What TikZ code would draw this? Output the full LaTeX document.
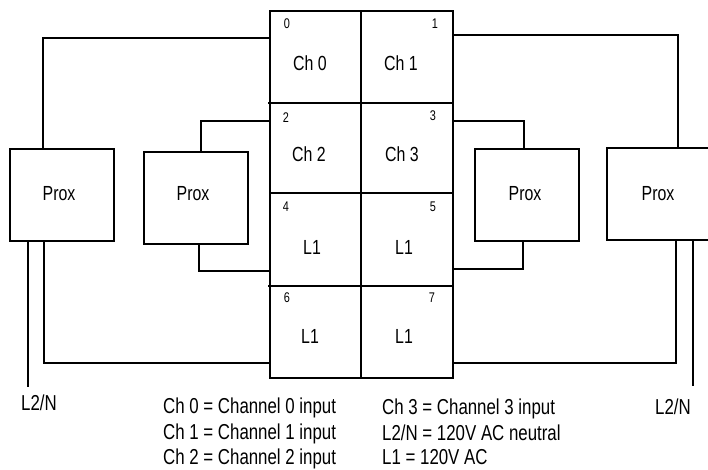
\documentclass[tikz,border=0pt]{standalone}
\usepackage{fontspec}
\setmainfont[FakeStretch=0.78]{Liberation Sans}

\tikzset{
  wire/.style={line width=2pt},
  cell/.style={draw, line width=2pt, inner sep=0pt, outer sep=0pt},
  prox/.style={draw, line width=2pt, inner sep=0pt, outer sep=0pt, minimum width=104pt, minimum height=92pt},
  lbl/.style={inner sep=0pt, font=\fontsize{20.4}{24}\selectfont},
  key/.style={inner sep=0pt, anchor=base west, font=\fontsize{21.6}{26}\selectfont},
  num/.style={inner sep=0pt, font=\fontsize{14}{16}\selectfont},
}

\begin{document}
\begin{tikzpicture}[x=1pt, y=-1pt]
\useasboundingbox (0,0) rectangle (708,469);
% terminal block
\foreach \cname/\cx/\cy/\cw/\ch in {
   cell0/315.25/57/90.5/92, cell1/406.75/57/92.5/92,
   cell2/315.25/148/90.5/90, cell3/406.75/148/92.5/90,
   cell4/315.25/239.5/90.5/93, cell5/406.75/239.5/92.5/93,
   cell6/315.25/332/90.5/92, cell7/406.75/332/92.5/92}
   \node [cell, minimum width=\cw pt, minimum height=\ch pt] (\cname) at (\cx,\cy) {};
\foreach \tname/\tx/\ty/\ttext in {
   ch0/310/63/Ch 0, ch1/401/63/Ch 1, ch2/309/154/Ch 2, ch3/402/154/Ch 3,
   lone4/312/247/L1, lone5/404/247/L1, lone6/310/336/L1, lone7/404/336/L1}
   \node [lbl] (\tname) at (\tx,\ty) {\ttext};
\foreach \nname/\nx/\ny/\ntext in {
   num0/287/24/0, num1/435/24/1, num2/286/118/2, num3/433/116/3,
   num4/286/207/4, num5/433/207/5, num6/287/298/6, num7/432/298/7}
   \node [num] (\nname) at (\nx,\ny) {\ntext};
\draw [wire] (cell0.south west) -- ++(-2,0);
\draw [wire] (cell4.south west) -- ++(-2,0);
% sensors
\node [prox] (proxa) at (62,195) {};
\node [prox] (proxb) at (196,198) {};
\node [prox] (proxc) at (527,195) {};
\node [prox] (proxd) at (659,194) {};
\node [lbl] (texta) at (59,194) {Prox};
\node [lbl] (textb) at (193,194) {Prox};
\node [lbl] (textc) at (525,194) {Prox};
\node [lbl] (textd) at (658,194) {Prox};
% wiring
\coordinate (t0) at (270,38);
\coordinate (t1) at (453,35);
\coordinate (t2) at (270,121);
\coordinate (t3) at (453,121);
\coordinate (t4) at (270,271);
\coordinate (t5) at (453,269);
\coordinate (t6) at (270,363);
\coordinate (t7) at (453,363);
\coordinate (atop) at (43,149);
\coordinate (btop) at (201,152);
\coordinate (ctop) at (524,149);
\coordinate (dtop) at (678,148);
\coordinate (abot) at (44,241);
\coordinate (bbot) at (199,244);
\coordinate (cbot) at (523,241);
\coordinate (dbot) at (676,240);
\coordinate (nleft) at (28,241);
\coordinate (nleftend) at (28,387);
\coordinate (nright) at (693,240);
\coordinate (nrightend) at (693,386);
\draw [wire] (t0) -| (atop);
\draw [wire] (t1) -| (dtop);
\draw [wire] (t2) -| (btop);
\draw [wire] (t3) -| (ctop);
\draw [wire] (t4) -| (bbot);
\draw [wire] (t5) -| (cbot);
\draw [wire] (t6) -| (abot);
\draw [wire] (t7) -| (dbot);
\draw [wire] (nleft) -- (nleftend);
\draw [wire] (nright) -- (nrightend);
\node [lbl, font=\fontsize{21.6}{26}\selectfont] (lnleft) at (39,403) {L2/N};
\node [lbl, font=\fontsize{21.6}{26}\selectfont] (lnright) at (673,407) {L2/N};
% legend
\foreach \kname/\kx/\ky/\ktext in {
   key0/163/413/{Ch 0 = Channel 0 input},
   key1/163/439/{Ch 1 = Channel 1 input},
   key2/163/464/{Ch 2 = Channel 2 input},
   key3/382/414/{Ch 3 = Channel 3 input},
   key4/382/440/{L2/N = 120V AC neutral},
   key5/382/464/{L1 = 120V AC}}
   \node [key] (\kname) at (\kx,\ky) {\ktext};
\end{tikzpicture}
\end{document}
